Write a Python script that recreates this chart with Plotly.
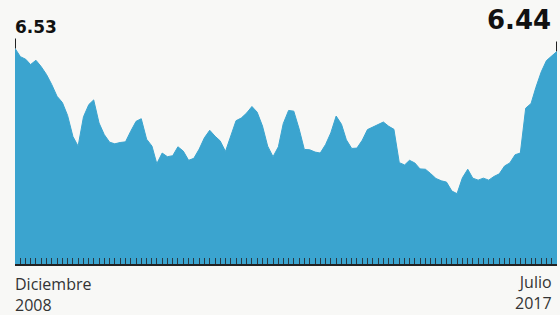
import plotly.graph_objects as go
import pandas as pd

# Monthly values, Dec 2008 - Jul 2017
values = [
    6.53,
    6.28, 6.20, 6.04, 6.17, 5.98, 5.74, 5.44, 5.08, 4.89, 4.50, 3.86, 3.57,
    4.46, 4.83, 4.97, 4.27, 3.92, 3.69, 3.64, 3.68, 3.70, 4.02, 4.32, 4.40,
    3.78, 3.57, 3.04, 3.36, 3.25, 3.28, 3.55, 3.42, 3.14, 3.20, 3.48, 3.82,
    4.05, 3.87, 3.73, 3.41, 3.85, 4.34, 4.42, 4.57, 4.77, 4.60, 4.18, 3.57,
    3.25, 3.55, 4.25, 4.65, 4.63, 4.09, 3.47, 3.46, 3.39, 3.36, 3.62, 3.97,
    4.48, 4.23, 3.76, 3.50, 3.51, 3.75, 4.07, 4.15, 4.22, 4.30, 4.17, 4.08,
    3.07, 3.00, 3.14, 3.06, 2.88, 2.87, 2.74, 2.59, 2.52, 2.48, 2.21, 2.13,
    2.61, 2.87, 2.60, 2.54, 2.60, 2.54, 2.65, 2.73, 2.97, 3.06, 3.31, 3.36,
    4.72, 4.86, 5.35, 5.82, 6.16, 6.31, 6.44,
]
dates = pd.date_range("2008-12-01", periods=len(values), freq="MS")
start_label = ["Diciembre", "2008"]
end_label = ["Julio", "2017"]

FILL = "#3BA4CF"
BG = "#f8f8f6"

fig = go.Figure()
fig.add_trace(go.Scatter(
    x=dates, y=values, mode="lines", fill="tozeroy",
    line=dict(color=FILL, width=1), fillcolor=FILL, hoverinfo="skip",
))

# small marker ticks above first/last point
for d, v in [(dates[0], values[0]), (dates[-1], values[-1])]:
    fig.add_shape(type="line", x0=d, x1=d, y0=v, y1=v + 0.3,
                  line=dict(color="#222", width=2), xref="x", yref="y")

fig.add_annotation(x=dates[0], y=values[0] + 0.27, xref="x", yref="y",
                   text=f"<b>{values[0]:.2f}</b>", showarrow=False,
                   xanchor="left", yanchor="bottom", xshift=-2,
                   font=dict(family="DejaVu Sans", size=17, color="#111"))
fig.add_annotation(x=dates[-1], y=1.0, xref="x", yref="paper",
                   text=f"<b>{values[-1]:.2f}</b>", showarrow=False,
                   xanchor="right", yanchor="middle", xshift=-4,
                   font=dict(family="DejaVu Sans", size=26, color="#111"))

lab_font = dict(family="Open Sans", size=16, color="#333")
fig.add_annotation(x=dates[0], y=-0.124, xref="x", yref="paper",
                   text="<br>".join(start_label), showarrow=False,
                   xanchor="left", yanchor="middle", align="left",
                   xshift=-2, font=lab_font)
fig.add_annotation(x=dates[-1], y=-0.115, xref="x", yref="paper",
                   text="<br>".join(end_label), showarrow=False,
                   xanchor="right", yanchor="middle", align="right",
                   xshift=-3, font=lab_font)

fig.update_xaxes(range=[dates[0], dates[-1]], showgrid=False, zeroline=False,
                 showline=True, linecolor="#222", linewidth=2,
                 ticks="inside", ticklen=6, tickwidth=1, tickcolor="#2a3a44",
                 dtick="M1", tick0=dates[0], showticklabels=False)
fig.update_yaxes(range=[0, 7.39], visible=False)

fig.update_layout(
    width=560, height=315,
    margin=dict(l=15, r=3, t=20, b=51),
    paper_bgcolor=BG, plot_bgcolor=BG,
    showlegend=False,
)
fig.write_html(
    "out.html",
    config={"displayModeBar": False},
    post_script="document.body.style.margin='0';document.body.style.background='%s';" % BG,
)
